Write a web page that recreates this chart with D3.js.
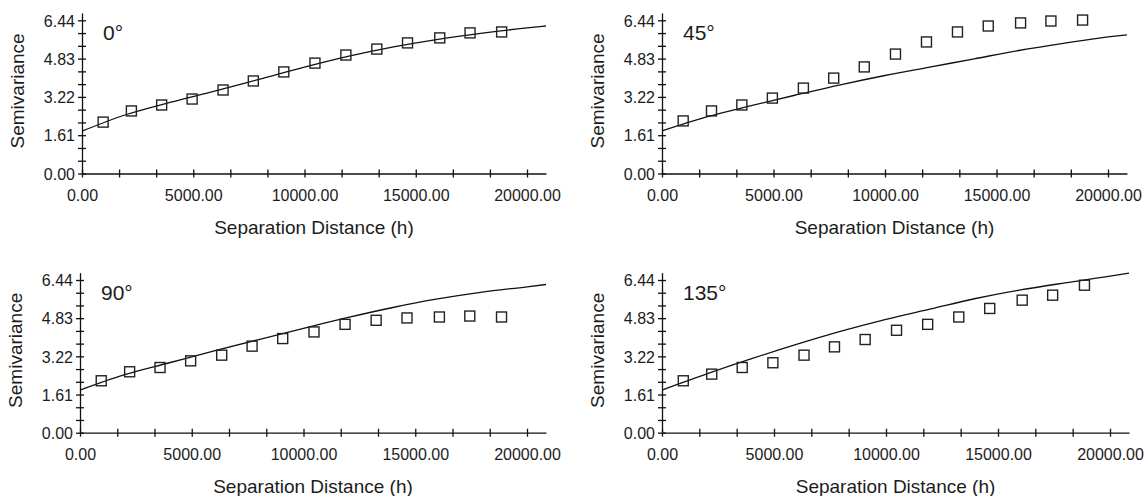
<!DOCTYPE html>
<html>
<head>
<meta charset="utf-8">
<script src="https://cdn.jsdelivr.net/npm/d3@7"></script>
<style>
  body { margin: 0; background: #fff; }
  text { font-family: "Liberation Sans", Arial, sans-serif; fill: #1c1c1c; }
</style>
</head>
<body>
<svg id="chart"></svg>
<script>
/* -------- directional semivariograms -------- */

let width = 1146;
let height = 496;

// data
const directions = ["0°", "45°", "90°", "135°"];
const lagDistance = [950, 2220, 3580, 4950, 6340, 7700, 9070, 10470, 11860, 13250, 14630, 16080, 17440, 18860];
const semivar0 = [2.16, 2.63, 2.88, 3.13, 3.51, 3.89, 4.27, 4.64, 4.98, 5.23, 5.49, 5.70, 5.91, 5.95];
const semivar45 = [2.21, 2.63, 2.88, 3.17, 3.59, 4.01, 4.48, 5.02, 5.53, 5.95, 6.20, 6.33, 6.41, 6.45];
const semivar90 = [2.19, 2.57, 2.75, 3.03, 3.27, 3.65, 3.97, 4.25, 4.57, 4.74, 4.84, 4.88, 4.92, 4.88];
const semivar135 = [2.19, 2.47, 2.75, 2.95, 3.27, 3.62, 3.93, 4.32, 4.57, 4.88, 5.24, 5.59, 5.80, 6.22];

// fitted model curves
const modelDistance = [0, 2000, 4000, 6000, 8000, 10000, 12000, 14000, 16000, 18000, 20000, 20850];
const model0 = [1.78, 2.48, 3.00, 3.47, 3.97, 4.47, 4.93, 5.32, 5.64, 5.90, 6.12, 6.20];
const model45 = [1.79, 2.38, 2.85, 3.30, 3.73, 4.12, 4.47, 4.82, 5.17, 5.47, 5.74, 5.83];
const model90 = [1.80, 2.45, 2.95, 3.45, 3.93, 4.40, 4.86, 5.28, 5.64, 5.93, 6.15, 6.25];
const model135 = [1.80, 2.48, 3.12, 3.72, 4.28, 4.78, 5.22, 5.66, 6.02, 6.32, 6.60, 6.73];

const xTickLabels = [0, 5000, 10000, 15000, 20000];
const yTickLabels = [0, 1.61, 3.22, 4.83, 6.44];

const observed = [semivar0, semivar45, semivar90, semivar135];
const models = [model0, model45, model90, model135];

// panel placement: pixel of x=0 / x=20000 and y=0 / y=6.44
const panels = [
    { x0: 82, x1: 527, y0: 173.5, y1: 20.3 },
    { x0: 662, x1: 1108, y0: 173.5, y1: 20.3 },
    { x0: 80, x1: 527, y0: 432.7, y1: 280 },
    { x0: 662, x1: 1110, y0: 432.7, y1: 280 }
];
let xMax = 20850;
let yMax = 6.75;

let svg = d3.select("#chart")
    .attr("width", width)
    .attr("height", height);

// minor ticks: three per labelled interval
let xTicks = d3.range(0, 13).map(i => i * xTickLabels[1] / 3);
let yTicks = d3.range(0, 13).map(i => i * yTickLabels[1] / 3);

panels.forEach((p, k) => {
    let lastX = xTickLabels[xTickLabels.length - 1];
    let lastY = yTickLabels[yTickLabels.length - 1];

    let scaleX = d3.scaleLinear()
        .domain([0, xMax])
        .range([p.x0, p.x0 + (p.x1 - p.x0) * xMax / lastX]);

    let scaleY = d3.scaleLinear()
        .domain([0, yMax])
        .range([p.y0, p.y0 - (p.y0 - p.y1) * yMax / lastY]);

    let g = svg.append("g").attr("class", "panel");

    let axisX = d3.axisBottom(scaleX)
        .tickValues(xTicks)
        .tickSizeOuter(0)
        .tickSizeInner(4)
        .tickFormat((d, i) => i % 3 === 0 ? d3.format(".2f")(d) : "");

    let axisY = d3.axisLeft(scaleY)
        .tickValues(yTicks)
        .tickSizeOuter(0)
        .tickSizeInner(4)
        .tickFormat((d, i) => i % 3 === 0 ? d3.format(".2f")(d) : "");

    let gx = g.append("g")
        .attr("transform", `translate(0, ${p.y0})`)
        .call(axisX)
        .attr("font-family", null)
        .attr("font-size", 16);
    gx.selectAll(".tick line").attr("y1", -4).attr("y2", 4);
    gx.selectAll(".tick text").attr("y", 16);

    let gy = g.append("g")
        .attr("transform", `translate(${p.x0}, 0)`)
        .call(axisY)
        .attr("font-family", null)
        .attr("font-size", 16);
    gy.selectAll(".tick line").attr("x1", -4).attr("x2", 4);
    gy.selectAll(".tick text").attr("x", -7).attr("dy", "0.36em");

    g.selectAll(".domain, .tick line")
        .attr("stroke", "#111")
        .attr("stroke-width", 1.3);

    // model curve
    let line = d3.line()
        .x(d => scaleX(d[0]))
        .y(d => scaleY(d[1]))
        .curve(d3.curveMonotoneX);

    g.append("path")
        .datum(modelDistance.map((h, i) => [h, models[k][i]]))
        .attr("d", line)
        .attr("fill", "none")
        .attr("stroke", "#111")
        .attr("stroke-width", 1.3);

    // experimental points
    let size = 10;
    g.selectAll("rect.point")
        .data(lagDistance.map((h, i) => [h, observed[k][i]]))
        .join("rect")
        .attr("class", "point")
        .attr("x", d => scaleX(d[0]) - size / 2)
        .attr("y", d => scaleY(d[1]) - size / 2)
        .attr("width", size)
        .attr("height", size)
        .attr("fill", "none")
        .attr("stroke", "#222")
        .attr("stroke-width", 1.4);

    // labels
    g.append("text")
        .attr("x", p.x0 + 21)
        .attr("y", p.y1 + 20)
        .attr("font-size", 21)
        .text(directions[k]);

    g.append("text")
        .attr("transform", `translate(${p.x0 - 58}, ${(p.y0 + p.y1) / 2 - 6}) rotate(-90)`)
        .attr("text-anchor", "middle")
        .attr("font-size", 19)
        .text("Semivariance");

    g.append("text")
        .attr("x", (scaleX.range()[0] + scaleX.range()[1]) / 2)
        .attr("y", p.y0 + 60)
        .attr("text-anchor", "middle")
        .attr("font-size", 19)
        .text("Separation Distance (h)");
});
</script>
</body>
</html>
